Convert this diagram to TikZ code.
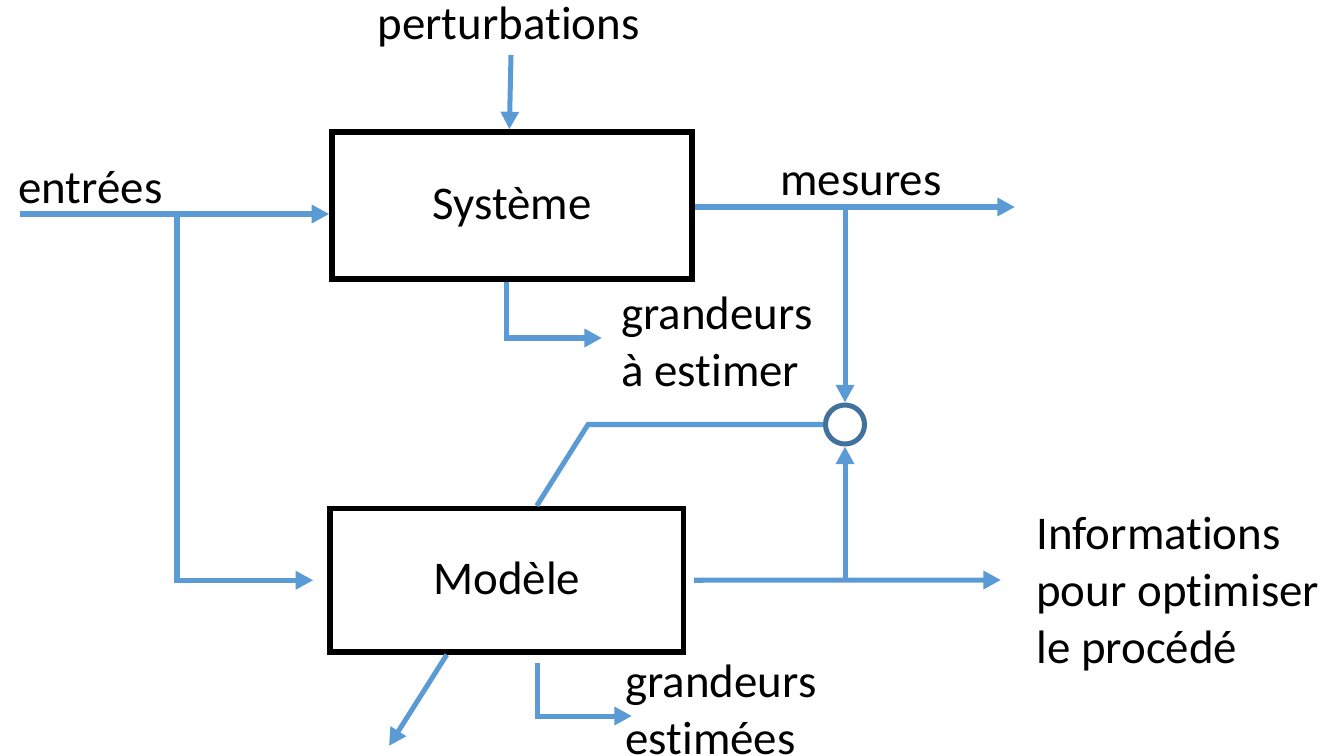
\documentclass[tikz,border=0pt]{standalone}
\usepackage{fontspec}
\setmainfont{Carlito}[Ligatures=NoCommon]
\usetikzlibrary{arrows.meta,calc}
\definecolor{bleu}{RGB}{91,155,213}
\definecolor{bleufonce}{RGB}{65,113,156}

\begin{document}
\begin{tikzpicture}[x=0.02cm,y=-0.02cm,
    every node/.style={font=\fontsize{26.7}{32.3}\selectfont},
    bloc/.style={draw=black,line width=3.1pt,rectangle},
    fleche/.style={draw=bleu,line width=2.85pt,-{Triangle[length=10pt,width=10pt]}},
    trait/.style={draw=bleu,line width=2.85pt},
    sommateur/.style={draw=bleufonce,line width=2.85pt,circle,minimum size=0.78cm,inner sep=0pt},
    texte/.style={inner sep=0pt,anchor=base west,align=left}]
  \useasboundingbox (0,0) rectangle (1344,756);

  % les deux blocs et le comparateur
  \node[bloc,minimum width=7.2cm,minimum height=2.94cm,text depth=0.45ex] (systeme) at (512,205.5) {Système};
  \node[bloc,minimum width=7.07cm,minimum height=2.87cm,text depth=0.45ex] (modele) at (506.75,580.25) {Modèle};
  \node[sommateur] (comp) at (845,424.5) {};

  % extremites libres
  \coordinate (pert) at (511,55);
  \coordinate (entree) at (20,214);
  \coordinate (branche) at (177,214);
  \coordinate (mesure) at (1015,207);
  \coordinate (noeud1) at (845,207);
  \coordinate (sortie1) at (602,338);
  \coordinate (coude) at (588,424.5);
  \coordinate (info) at (1001,580);
  \coordinate (noeud2) at (845,580);
  \coordinate (fuite) at (389,746);
  \coordinate (sortie2) at (632,716);

  % textes (base = derniere ligne)
  \node[inner sep=0pt,anchor=base] (tpert) at (508.5,40) {perturbations};
  \node[texte] (tentree) at (18,204) {entrées};
  \node[texte] (tmesure) at (780,196) {mesures};
  \node[texte] (tgrand1) at (621,386) {grandeurs\\à estimer};
  \node[texte] (tinfo) at (1036,663) {Informations\\pour optimiser\\le procédé};
  \node[texte] (tgrand2) at (625,754) {grandeurs\\estimées};

  % liaisons
  \draw[fleche] (pert) -- ([xshift=-1.5pt]systeme.north);
  \draw[fleche] (entree) -- (entree -| systeme.west);
  \draw[fleche] (branche) |- ($(modele.west)+(-14,0)$);
  \draw[fleche] (systeme.east |- mesure) -- (mesure);
  \draw[fleche] (noeud1) -- (comp.north);
  \draw[fleche] ($(systeme.south)+(-6,0)$) |- (sortie1);
  \draw[trait] ($(modele.north)+(30,0)$) -- (coude) -- (comp.west);
  \draw[fleche] ($(modele.east)+(8,0)$) -- (info);
  \draw[fleche] (noeud2) -- (comp.south);
  \draw[fleche] ($(modele.south)+(-60,0)$) -- (fuite);
  \draw[fleche] ($(modele.south)+(31,8)$) |- (sortie2);
\end{tikzpicture}
\end{document}
